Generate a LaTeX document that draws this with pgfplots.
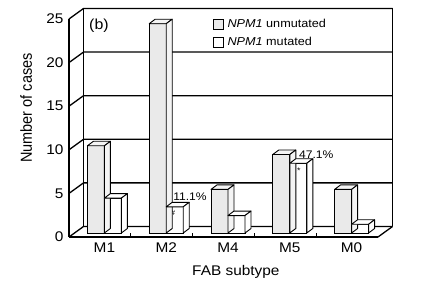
\documentclass[border=0pt]{standalone}
\usepackage{pgfplots}
\pgfplotsset{compat=1.18}
\usepackage{pgfplotstable}
\usepackage{graphicx}
\usepackage{fontspec}
\setmainfont[FakeStretch=1.1]{Liberation Sans}
\newfontfamily\plainsans{Liberation Sans}
\definecolor{barg}{RGB}{234,234,234}
\definecolor{bargs}{RGB}{244,244,244}
\pgfdeclareplotmark{none3d}{}
\pgfplotstableread{
x g w
0.5 10 4
1.5 24 3
2.5 5 2
3.5 9 8
4.5 5 1
}\data
\tikzset{dep/.style={shift={(14.5bp,10.5bp)}}}
\begin{document}
\begin{tikzpicture}
\useasboundingbox (0,0) rectangle (425bp,287bp);
\begin{axis}[
  anchor=origin, at={(69bp,50bp)},
  x=61.8bp, y=8.72bp,
  xmin=0, xmax=5, ymin=0, ymax=25,
  axis x line*=bottom, axis y line*=left,
  axis line style={line width=1.3bp, black, -},
  clip=false,
  xtick={0.5,1.5,2.5,3.5,4.5},
  xticklabels={M1,M2,M4,M5,M0},
  xticklabel style={xshift=4.5bp, yshift=-2bp},
  ytick={0,5,...,25},
  tick style={draw=none},
  ticklabel style={font=\fontsize{14bp}{16bp}\selectfont},
  /pgf/number format/assume math mode=true,
  yticklabel style={xshift=-2bp},
  legend style={at={(axis cs:2.32,25.12)}, anchor=north west, draw=none, fill=none,
    font=\fontsize{11.5bp}{14bp}\selectfont, row sep=5bp, inner sep=0pt,
    nodes={inner sep=1.5bp}},
  legend cell align=left,
]
% frame
\pgfplotsinvokeforeach{0,5,10,15,20,25}{
  \draw[line width=1.3bp] (axis cs:0,#1) -- ([dep]axis cs:0,#1) -- ([dep]axis cs:5,#1);
}
\draw[line width=1.3bp] ([dep]axis cs:0,0) -- ([dep]axis cs:0,25);
\draw[line width=1.3bp] ([dep]axis cs:5,0) -- ([dep]axis cs:5,25);
\draw[line width=1.3bp] (axis cs:5,0) -- ([dep]axis cs:5,0);
\draw[line width=1.3bp] (axis cs:0,25) -- (axis cs:0,0);
\pgfplotsinvokeforeach{1,2,3,4}{
  \draw[line width=1.1bp] (axis cs:#1,0) -- ++(0,4bp);
}
% legend
\addlegendimage{legend image code/.code={\draw[fill=barg, line width=0.9bp] (0bp,-5bp) rectangle (10bp,5bp); \path[draw=none, fill=none] (0bp,0bp) -- (13bp,0bp);}}
\addlegendentry{\textit{NPM1} unmutated}
\addlegendimage{legend image code/.code={\draw[fill=white, line width=0.9bp] (0bp,-5bp) rectangle (10bp,5bp); \path[draw=none, fill=none] (0bp,0bp) -- (13bp,0bp);}}
\addlegendentry{\textit{NPM1} mutated}
% gray bars
\addplot[ybar, bar width=17bp, bar shift=-4bp, yshift=4bp, fill=barg, draw=black, line width=0.9bp, forget plot] table[x=x,y=g]{\data};
\addplot[scatter, only marks, mark=none3d, forget plot,
  visualization depends on={\thisrow{g} \as \hv},
  scatter/@pre marker code/.code={
    \filldraw[fill=bargs, draw=black, line width=0.9bp, line join=round] (-12.5bp,4bp) -- (4.5bp,4bp) -- (10.5bp,8.5bp) -- (-6.5bp,8.5bp) -- cycle;
    \filldraw[fill=bargs, draw=black, line width=0.9bp, line join=round] (4.5bp,4bp) -- (10.5bp,8.5bp) -- (10.5bp,{8.5bp-\hv*8.72bp}) -- (4.5bp,{4bp-\hv*8.72bp}) -- cycle;
  },
  scatter/@post marker code/.code={}
] table[x=x,y=g]{\data};
% white bars
\addplot[ybar, bar width=17bp, bar shift=13bp, yshift=4bp, fill=white, draw=black, line width=0.9bp, forget plot] table[x=x,y=w]{\data};
\addplot[scatter, only marks, mark=none3d, forget plot,
  visualization depends on={\thisrow{w} \as \hv},
  scatter/@pre marker code/.code={
    \filldraw[fill=white, draw=black, line width=0.9bp, line join=round] (4.5bp,4bp) -- (21.5bp,4bp) -- (27.5bp,8.5bp) -- (10.5bp,8.5bp) -- cycle;
    \filldraw[fill=white, draw=black, line width=0.9bp, line join=round] (21.5bp,4bp) -- (27.5bp,8.5bp) -- (27.5bp,{8.5bp-\hv*8.72bp}) -- (21.5bp,{4bp-\hv*8.72bp}) -- cycle;
  },
  scatter/@post marker code/.code={}
] table[x=x,y=w]{\data};
% annotations
\node[font=\fontsize{14.5bp}{16bp}\selectfont] at (axis cs:0.485,24.2) {(b)};
\node[font=\fontsize{11bp}{13bp}\selectfont] at (axis cs:1.958,4.6) {11.1\%};
\node[font=\fontsize{11bp}{13bp}\selectfont] at (axis cs:4.0,9.4) {47.1\%};
\node[font=\fontsize{7bp}{8bp}\selectfont] at (axis cs:1.683,2.75) {\#};
\node[font=\fontsize{8bp}{8bp}\selectfont] at (axis cs:3.72,7.6) {*};
\node[rotate=90, anchor=base, inner sep=0pt, font=\plainsans\fontsize{14.5bp}{16bp}\selectfont] at (axis cs:-0.599,14.8) {\scalebox{1}[1.1]{Number of cases}};
\node[anchor=base, inner sep=0pt, font=\fontsize{14bp}{16bp}\selectfont] at (axis cs:2.70,-4.44) {FAB subtype};
\end{axis}
\end{tikzpicture}
\end{document}
